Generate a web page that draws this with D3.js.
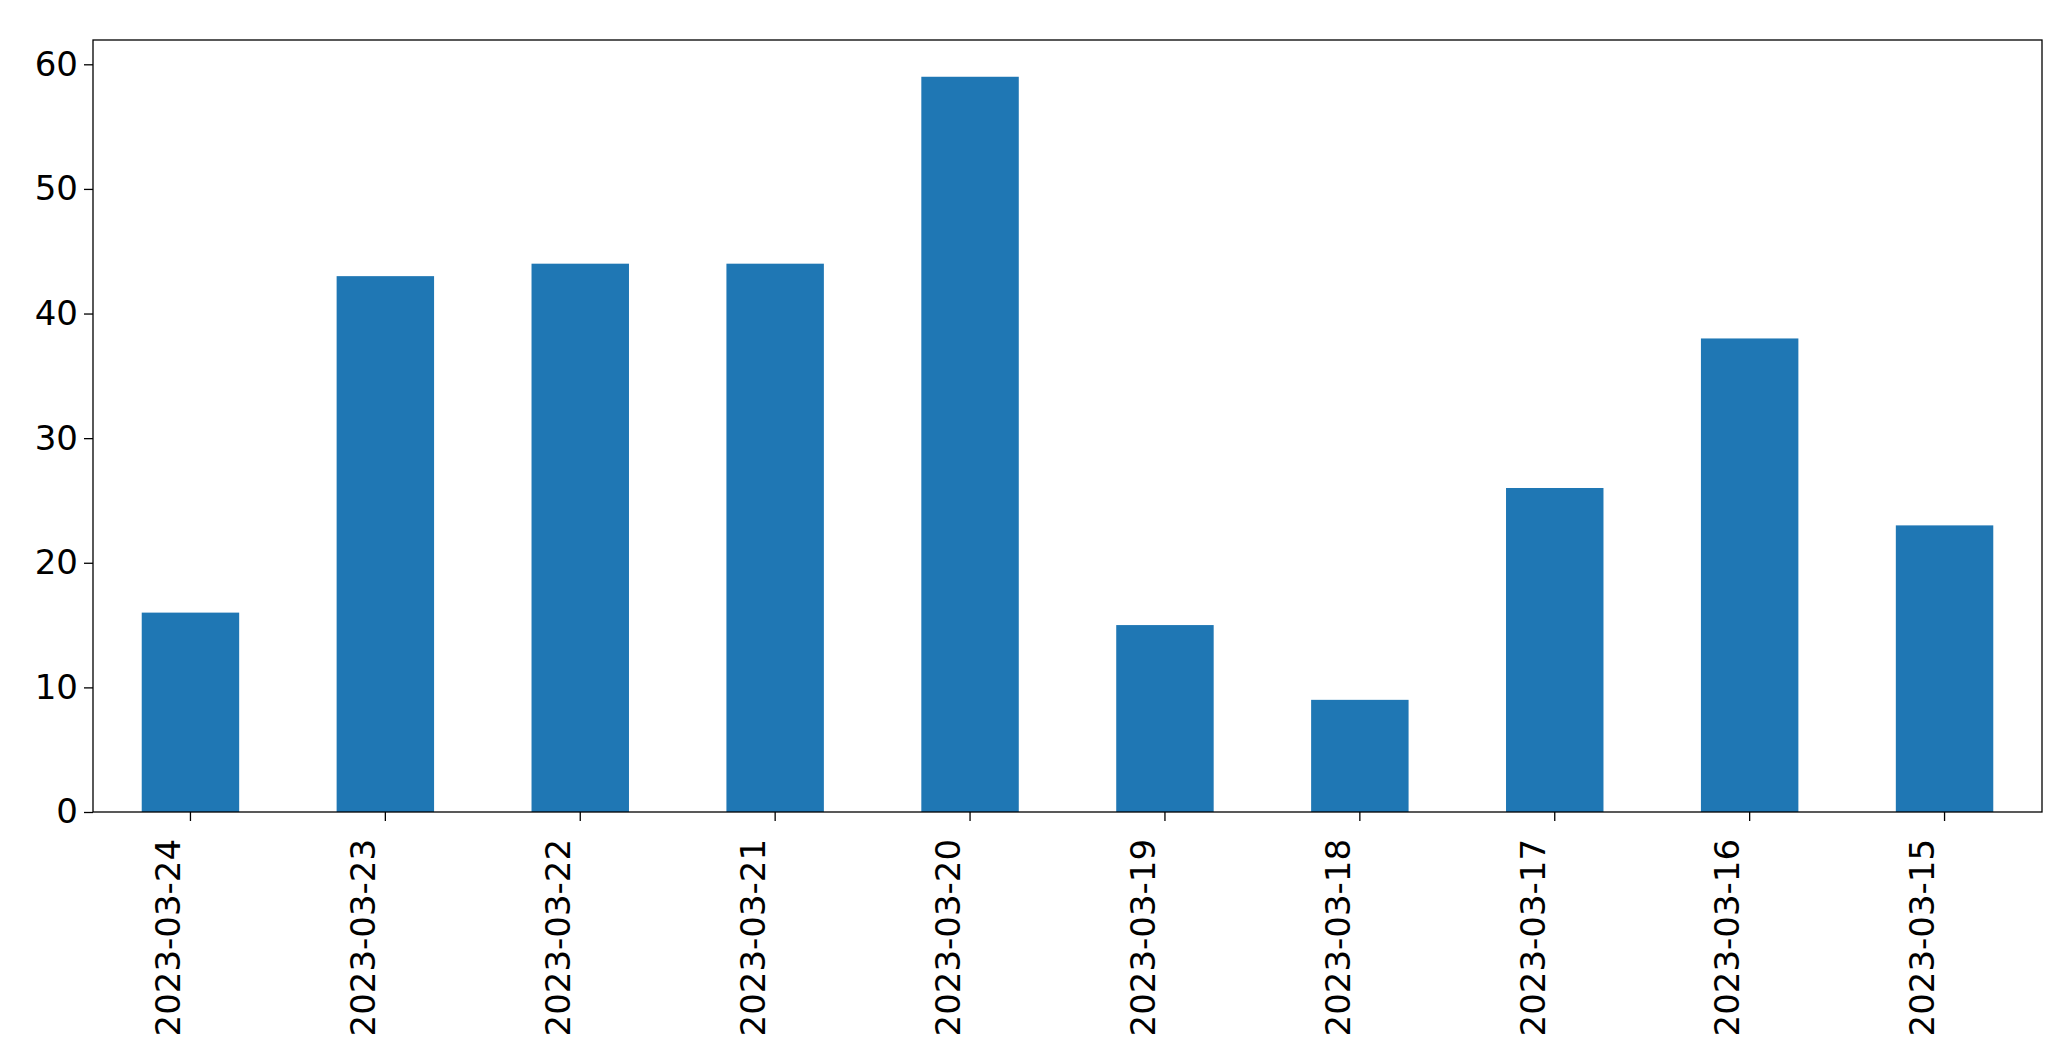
<!DOCTYPE html>
<html><head><meta charset="utf-8"><script src="https://cdn.jsdelivr.net/npm/d3@7"></script>
<style>body{margin:0;background:#fff}</style></head><body>
<svg id="c" width="2071" height="1061"></svg>
<script>
const categories=["2023-03-24","2023-03-23","2023-03-22","2023-03-21","2023-03-20","2023-03-19","2023-03-18","2023-03-17","2023-03-16","2023-03-15"];
const values=[16,43,44,44,59,15,9,26,38,23];
const yTicks=[0,10,20,30,40,50,60];
const m={l:93,r:2042,t:40,b:812};
const svg=d3.select("#c");
const x=d3.scaleBand().domain(categories).range([m.l,m.r]).paddingInner(0.5).paddingOuter(0.25);
const y=d3.scaleLinear().domain([0,61.95]).range([m.b,m.t]);
svg.selectAll("rect.bar").data(values).join("rect").attr("class","bar")
 .attr("x",(d,i)=>x(categories[i])).attr("width",x.bandwidth())
 .attr("y",d=>y(d)).attr("height",d=>y(0)-y(d)).attr("fill","#1f77b4");
const font="DejaVu Sans, sans-serif";
const ya=svg.append("g").attr("transform",`translate(${m.l},0)`).call(d3.axisLeft(y).tickValues(yTicks).tickSize(9).tickPadding(6));
const xa=svg.append("g").attr("transform",`translate(0,${m.b})`).call(d3.axisBottom(x).tickSize(9).tickPadding(6));
[ya,xa].forEach(a=>{a.select(".domain").remove();a.selectAll("line").attr("stroke","#000").attr("stroke-width",1.3);a.selectAll("text").attr("font-family",font).attr("font-size",34).attr("fill","#000");});
xa.selectAll("text").attr("transform","rotate(-90)").attr("text-anchor","end").attr("dx","-0.35em").attr("dy","-0.3em").attr("y",0).attr("x",-15);
svg.append("rect").attr("x",m.l).attr("y",m.t).attr("width",m.r-m.l).attr("height",m.b-m.t).attr("fill","none").attr("stroke","#000").attr("stroke-width",1.3);
</script></body></html>
